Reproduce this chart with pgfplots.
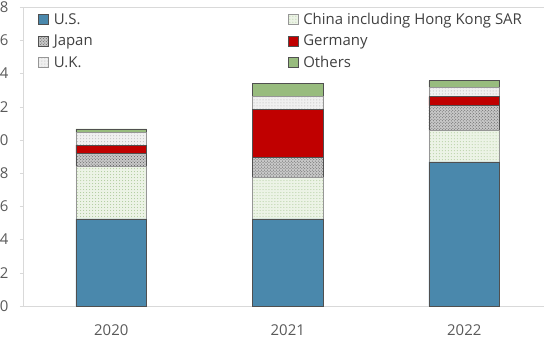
\documentclass[border=0pt]{standalone}
\usepackage{pgfplots}
\usepackage{pgfplotstable}
\pgfplotsset{compat=1.18}
\usepackage{fontspec}
\setmainfont{Open Sans}
\usetikzlibrary{patterns}
\definecolor{usblue}{RGB}{74,136,172}
\definecolor{chinafill}{RGB}{236,243,230}
\definecolor{chinadot}{RGB}{170,200,150}
\definecolor{japfill}{RGB}{200,200,200}
\definecolor{japdot}{RGB}{90,90,90}
\definecolor{gerred}{RGB}{192,0,0}
\definecolor{ukfill}{RGB}{240,240,240}
\definecolor{ukdot}{RGB}{175,175,175}
\definecolor{othgreen}{RGB}{152,188,126}
\definecolor{txtgray}{RGB}{89,89,89}
\definecolor{legtxt}{RGB}{64,64,64}
\definecolor{axgray}{RGB}{217,217,217}
\definecolor{edge}{RGB}{80,80,80}
\pgfplotstableread{
x US China Japan Germany UK Others
0 5.24 3.17 0.78 0.50 0.74 0.23
1 5.24 2.51 1.20 2.89 0.76 0.81
2 8.67 1.88 1.51 0.54 0.57 0.39
}\data
\begin{document}
\begin{tikzpicture}
\begin{axis}[
  at={(0,0)}, anchor=south west,
  scale only axis,
  width=529.5bp, height=299bp,
  ybar stacked,
  bar width=0.4,
  xmin=-0.5, xmax=2.5,
  ymin=0, ymax=18,
  ytick={0,2,...,18},
  xtick=data,
  xticklabels={2020,2021,2022},
  axis line style={axgray},
  tick align=outside,
  major tick length=3bp,
  ytick style={axgray},
  xtick style={draw=none},
  /pgf/number format/assume math mode=true,
  ticklabel style={font=\fontsize{15}{18}\selectfont, text=txtgray},
  yticklabel style={xshift=-8bp},
  xticklabel style={yshift=-12bp},
  legend columns=2,
  legend cell align=left,
  legend style={draw=none, fill=none, at={(0,1)}, anchor=north west,
    xshift=12bp, yshift=-2bp,
    font=\fontsize{15}{18}\selectfont, text=legtxt,
    /tikz/column 1/.style={column sep=3bp},
    /tikz/column 2/.style={column sep=193bp},
    /tikz/column 3/.style={column sep=3bp},
    row sep=5bp},
  legend image code/.code={\draw[#1] (0bp,-5bp) rectangle (10bp,5bp);},
]
\addplot[fill=usblue, draw=edge, line width=0.6pt] table[x=x, y=US] {\data};
\addplot[fill=chinafill, draw=edge!60, line width=0.6pt, postaction={pattern=dots, pattern color=chinadot}] table[x=x, y=China] {\data};
\addplot[fill=japfill, draw=edge, line width=0.6pt, postaction={pattern=crosshatch dots, pattern color=japdot}] table[x=x, y=Japan] {\data};
\addplot[fill=gerred, draw=edge, line width=0.6pt] table[x=x, y=Germany] {\data};
\addplot[fill=ukfill, draw=edge!60, line width=0.6pt, postaction={pattern=dots, pattern color=ukdot}] table[x=x, y=UK] {\data};
\addplot[fill=othgreen, draw=edge, line width=0.6pt] table[x=x, y=Others] {\data};
\legend{U.S., China including Hong Kong SAR, Japan, Germany, U.K., Others}
\end{axis}
\pgfresetboundingbox
\useasboundingbox (-23bp,-33bp) rectangle (521bp,306bp);
\end{tikzpicture}
\end{document}
